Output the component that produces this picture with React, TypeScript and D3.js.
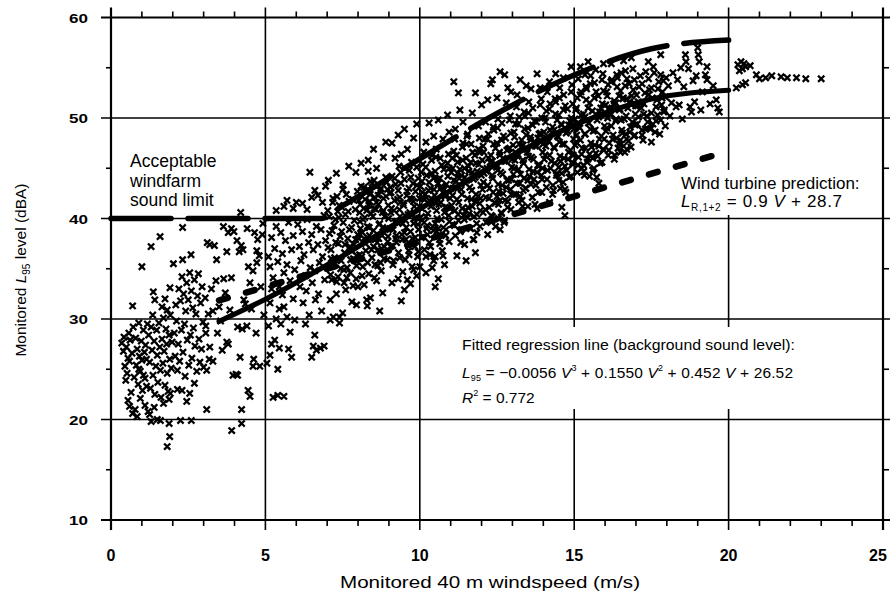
import React from "react";
import * as d3 from "d3";

const W = 890;
const H = 594;

const xMajor = [0, 5, 10, 15, 20, 25];
const yMajor = [10, 20, 30, 40, 50, 60];
const xMinor = [1, 2, 3, 4, 6, 7, 8, 9, 11, 12, 13, 14, 16, 17, 18, 19, 21, 22, 23, 24];
const yMinor = [15, 25, 35, 45, 55];
const xTickLabels = ["0", "5", "10", "15", "20", "25"];
const yTickLabels = ["10", "20", "30", "40", "50", "60"];

// Fitted regression line (background sound level)
const regressionLine: [number, number][] = [
  [3.5, 29.76], [5, 31.96], [7.5, 36.27], [10, 40.94], [12.5, 45.45], [15, 49.28], [17.5, 51.89], [20, 52.76],
];
// Wind turbine prediction line
const turbineLine: [number, number][] = [[3.5, 31.85], [20, 46.7]];
// Acceptable windfarm sound limit
const limitLine: [number, number][] = [
  [0, 40], [6.8, 40], [7.5, 41.27], [8.5, 43.1], [10, 45.94], [12.5, 50.45], [15, 54.28], [17.5, 56.89], [20, 57.76],
];

const lowWindPoints: [number, number][] = [
  [0.35,27.6],[0.4,26.8],[0.42,28.2],[0.45,25.3],[0.5,27.2],[0.52,24.6],[0.55,26.1],[0.58,28.6],[0.6,25.8],[0.48,23.9],[0.62,27.9],[0.55,21.9],[0.6,21.3],[0.65,22.7],[0.7,31.3],[0.68,26.6],[0.72,29.2],[0.75,24.2],[0.7,20.6],
  [0.8,28.1],[0.82,25.4],[0.85,27.0],[0.88,23.5],[0.9,29.6],[0.92,26.3],[0.95,24.8],[0.98,27.8],[1.0,25.9],[1.02,22.9],[1.05,28.9],[1.08,26.7],[1.1,24.1],[1.12,27.4],[1.15,23.3],[1.18,29.5],[0.78,21.0],[0.85,20.3],[0.95,22.1],[1.0,35.2],[1.1,21.4],[1.2,20.8],[0.9,25.0],[1.05,24.4],[1.15,26.0],
  [1.22,28.4],[1.25,25.7],[1.28,23.1],[1.3,29.2],[1.33,26.9],[1.36,24.4],[1.4,27.8],[1.42,22.5],[1.45,25.3],[1.48,28.9],[1.5,26.4],[1.52,23.7],[1.55,29.6],[1.58,27.2],[1.6,24.9],[1.62,22.2],[1.65,28.0],[1.68,25.6],[1.7,30.1],[1.72,26.8],[1.75,23.4],[1.78,29.0],[1.8,27.5],[1.82,24.6],[1.85,22.8],[1.88,28.4],[1.9,26.0],[1.92,30.4],[1.95,25.1],[1.98,27.7],
  [1.3,37.2],[1.37,32.7],[1.42,31.9],[1.59,38.2],[1.82,30.9],[1.91,33.1],[1.25,20.5],[1.3,19.8],[1.5,20.0],[1.6,19.9],[1.88,19.6],[1.9,18.3],[1.82,17.3],[1.92,22.6],[1.88,22.0],[1.4,21.2],[1.7,21.6],[1.35,30.4],[1.65,31.2],[1.75,32.0],
  [2.02,35.5],[2.32,35.9],[2.59,36.4],[2.32,39.1],[2.1,31.4],[2.2,33.0],[2.25,31.8],[2.3,34.2],[2.35,32.5],[2.42,30.8],[2.45,33.6],[2.5,31.9],[2.55,34.6],[2.6,32.8],[2.65,31.1],[2.7,33.9],[2.75,30.5],[2.8,32.3],[2.83,34.5],[2.9,31.6],[2.95,33.2],
  [2.05,28.6],[2.08,26.3],[2.12,29.8],[2.15,24.9],[2.18,27.5],[2.22,25.8],[2.28,28.9],[2.33,26.7],[2.38,29.5],[2.4,24.3],[2.47,27.9],[2.52,25.4],[2.57,28.4],[2.62,26.1],[2.67,29.1],[2.72,27.3],[2.78,24.8],[2.85,28.0],[2.88,25.7],[2.93,27.0],[2.98,29.7],[2.55,22.6],[2.25,19.9],[2.6,19.9],[2.3,22.9],[2.7,23.6],[2.15,23.0],[2.45,21.8],
  [3.12,37.6],[3.2,37.4],[3.35,37.3],[3.42,35.9],[3.64,39.2],[3.8,38.6],[3.9,39.0],[3.98,38.7],[3.75,36.7],[3.4,33.8],[3.65,34.0],[3.9,34.1],[3.07,29.3],[3.07,28.6],[3.2,27.2],[3.18,26.0],[3.0,25.2],[3.1,24.9],[3.1,21.0],[3.75,27.7],[3.8,27.5],[3.91,18.9],[3.95,24.4],[3.3,30.8],[3.5,31.2],[3.05,32.1],[3.15,30.5],[3.25,33.0],[3.55,29.8],[3.85,30.9],[3.7,32.6],[3.45,28.6],[3.6,26.9],[3.3,25.8],
  [4.08,37.8],[4.15,36.7],[4.22,37.3],[4.27,36.9],[4.41,39.0],[4.72,35.6],[4.72,36.8],[4.75,37.9],[4.9,38.4],[4.92,39.5],[4.3,31.9],[4.35,31.5],[4.5,33.6],[4.1,29.2],[4.25,29.0],[4.4,29.3],[4.18,26.2],[4.6,25.3],[4.62,26.0],[4.1,24.4],[4.05,24.5],[4.44,22.9],[4.5,22.3],[4.82,25.3],[4.23,19.6],[4.23,21.0],[4.6,34.8],[4.85,33.2],[4.55,31.0],[4.95,30.4],[4.7,28.6],[4.2,40.6],[4.45,35.2],[4.65,38.6],[4.8,36.3],
];

const midWindPoints: [number, number][] = [
  [5.1,36.2],[5.15,35.2],[5.2,38.1],[5.25,34.1],[5.3,37.0],[5.35,39.2],[5.4,35.7],[5.45,33.2],[5.5,38.6],[5.55,36.5],[5.6,34.6],[5.65,37.8],[5.7,35.4],[5.75,39.6],[5.8,33.8],[5.85,36.9],[5.9,38.3],[5.95,34.9],[5.6,41.2],[5.7,41.8],[5.9,41.0],[6.0,41.6],[5.35,40.8],
  [5.05,25.6],[5.15,26.4],[5.2,27.5],[5.3,27.9],[5.45,27.1],[5.6,22.3],[5.4,22.4],[5.25,22.2],[5.1,29.3],[5.35,30.0],[5.5,29.5],[5.6,31.2],[5.7,30.2],[5.8,28.7],[5.9,32.0],[5.95,29.9],[5.55,32.4],[5.15,31.6],[5.75,27.0],[5.85,26.2],[5.2,33.0],[5.45,31.0],
  [6.05,39.4],[6.1,37.2],[6.15,35.8],[6.2,38.7],[6.25,36.4],[6.3,34.3],[6.35,39.9],[6.4,37.6],[6.45,35.1],[6.5,38.4],[6.55,36.9],[6.6,34.8],[6.65,39.2],[6.7,37.4],[6.75,35.6],[6.8,38.9],[6.85,36.2],[6.9,40.3],[6.95,37.8],
  [6.12,33.2],[6.22,31.6],[6.32,32.8],[6.42,30.4],[6.52,33.6],[6.62,31.9],[6.72,32.5],[6.82,30.8],[6.92,33.9],[6.3,29.5],[6.55,27.3],[6.65,26.9],[6.78,27.1],[6.6,28.4],[6.44,44.6],[6.5,42.1],[6.6,42.8],[6.7,42.3],[6.2,41.5],[6.85,41.6],[6.35,40.9],[6.95,43.2],
  [7.02,40.8],[7.08,38.5],[7.12,36.9],[7.18,41.6],[7.22,39.3],[7.28,37.6],[7.32,42.2],[7.38,40.1],[7.42,38.2],[7.48,41.1],[7.52,39.6],[7.58,37.4],[7.62,42.4],[7.68,40.7],[7.72,38.9],[7.78,36.8],[7.82,41.9],[7.88,39.8],[7.92,37.9],[7.98,42.7],
  [7.05,35.2],[7.15,33.9],[7.25,35.5],[7.35,34.2],[7.45,35.8],[7.55,33.6],[7.65,35.1],[7.75,34.6],[7.85,36.0],[7.95,35.3],[7.1,31.9],[7.3,32.5],[7.5,30.6],[7.6,32.9],[7.8,31.7],[7.95,31.4],[7.2,30.2],[7.4,29.6],[7.04,43.8],[7.52,43.3],[7.93,44.6],[7.3,44.5],[7.7,45.2],[8.0,33.2],
  [8.02,41.8],[8.06,39.7],[8.1,43.2],[8.14,38.6],[8.18,41.0],[8.22,40.1],[8.26,42.6],[8.3,39.2],[8.34,37.9],[8.38,41.7],[8.42,40.5],[8.46,43.5],[8.5,38.8],[8.54,42.1],[8.58,40.9],[8.62,37.6],[8.66,41.4],[8.7,39.5],[8.74,43.0],[8.78,38.3],[8.82,42.0],[8.86,40.2],[8.9,44.1],[8.94,39.0],[8.98,41.3],
  [8.05,36.4],[8.15,35.2],[8.25,36.8],[8.35,34.5],[8.45,36.1],[8.55,35.4],[8.65,36.9],[8.75,34.8],[8.85,37.2],[8.95,35.9],[8.2,33.4],[8.4,32.1],[8.6,33.8],[8.8,32.6],[8.3,31.3],[8.7,30.8],[8.82,46.1],[8.33,45.8],[8.33,44.7],[8.5,46.9],[8.1,45.5],[8.9,47.6],[8.6,45.0],
  [9.02,42.5],[9.06,40.6],[9.1,44.2],[9.14,38.9],[9.18,41.8],[9.22,43.4],[9.26,39.7],[9.3,42.8],[9.34,40.9],[9.38,44.6],[9.42,38.4],[9.46,41.5],[9.5,43.9],[9.54,39.8],[9.58,42.3],[9.62,40.4],[9.66,44.8],[9.7,38.7],[9.74,41.9],[9.78,43.5],[9.82,40.0],[9.86,42.7],[9.9,45.1],[9.94,39.4],[9.98,41.2],
  [9.05,37.2],[9.15,35.8],[9.25,37.6],[9.35,36.1],[9.45,34.7],[9.55,37.9],[9.65,36.4],[9.75,35.2],[9.85,38.1],[9.95,36.7],[9.1,33.6],[9.3,34.0],[9.5,32.9],[9.7,33.5],[9.9,34.3],[9.4,31.8],[9.1,47.5],[9.3,48.3],[9.5,48.9],[9.6,46.9],[9.4,46.4],[9.2,46.0],[9.8,48.0],[9.9,49.4],
  [5.4,25.0],[6.5,26.2],[6.9,27.3],[7.4,30.2],[7.1,29.9],[8.28,31.9],[9.6,33.9],[9.8,34.9],[10.0,35.2],
];

const highWindPoints: [number, number][] = [
  [10.02,43.2],[10.06,41.0],[10.1,45.4],[10.14,39.6],[10.18,42.4],[10.22,44.3],[10.26,40.5],[10.3,43.6],[10.34,41.7],[10.38,45.8],[10.42,39.2],[10.46,42.9],[10.5,44.7],[10.54,40.8],[10.58,43.9],[10.62,41.4],[10.66,46.0],[10.7,39.9],[10.74,42.6],[10.78,44.9],[10.82,41.1],[10.86,43.4],[10.9,45.5],[10.94,40.3],[10.98,42.0],
  [10.05,38.1],[10.15,36.9],[10.25,38.4],[10.35,37.2],[10.45,35.8],[10.55,38.7],[10.65,37.5],[10.75,36.3],[10.85,38.9],[10.95,37.7],[10.2,34.6],[10.4,35.1],[10.6,34.0],[10.8,35.4],[10.5,33.2],[10.3,49.5],[10.6,49.8],[10.9,50.3],[10.2,47.6],[10.45,48.2],[10.75,47.9],[10.95,48.6],[10.2,36.2],[10.5,36.2],
  [11.02,44.6],[11.06,42.3],[11.1,46.7],[11.14,40.8],[11.18,43.7],[11.22,45.6],[11.26,41.6],[11.3,44.9],[11.34,42.9],[11.38,47.1],[11.42,40.3],[11.46,44.1],[11.5,46.0],[11.54,42.0],[11.58,45.2],[11.62,43.1],[11.66,47.4],[11.7,41.2],[11.74,43.9],[11.78,46.3],[11.82,42.4],[11.86,44.7],[11.9,46.9],[11.94,41.5],[11.98,43.3],
  [11.05,39.4],[11.15,38.3],[11.25,39.8],[11.35,38.9],[11.45,37.4],[11.55,40.1],[11.65,39.0],[11.75,37.9],[11.85,40.4],[11.95,39.2],[11.2,36.3],[11.5,35.8],[11.8,36.6],[11.1,53.6],[11.25,52.5],[11.8,52.5],[11.7,50.5],[11.4,49.6],[11.15,48.9],[11.55,48.4],[11.9,49.2],[11.3,50.8],
  [12.02,45.8],[12.06,43.6],[12.1,47.9],[12.14,42.1],[12.18,45.0],[12.22,48.4],[12.26,43.0],[12.3,46.3],[12.34,44.3],[12.38,49.1],[12.42,41.6],[12.46,45.4],[12.5,47.5],[12.54,43.4],[12.58,46.6],[12.62,44.6],[12.66,49.5],[12.7,42.5],[12.74,45.7],[12.78,48.0],[12.82,43.8],[12.86,46.9],[12.9,49.8],[12.94,42.9],[12.98,45.1],
  [12.05,40.6],[12.15,39.6],[12.25,41.1],[12.35,40.2],[12.45,39.2],[12.55,41.4],[12.65,40.5],[12.75,39.8],[12.85,41.7],[12.95,40.9],[12.2,38.4],[12.6,38.9],[12.3,53.4],[12.35,53.8],[12.6,54.6],[12.75,54.3],[12.85,53.0],[12.95,52.6],[12.0,51.3],[12.5,52.0],[12.2,51.8],[12.8,51.5],
  [13.02,47.3],[13.06,45.0],[13.1,49.4],[13.14,43.5],[13.18,46.4],[13.22,50.1],[13.26,44.4],[13.3,47.8],[13.34,45.8],[13.38,50.6],[13.42,43.0],[13.46,46.9],[13.5,49.0],[13.54,44.9],[13.58,48.1],[13.62,46.1],[13.66,51.0],[13.7,43.9],[13.74,47.2],[13.78,49.6],[13.82,45.3],[13.86,48.4],[13.9,51.3],[13.94,44.3],[13.98,46.6],
  [13.05,42.4],[13.2,41.6],[13.35,42.8],[13.5,41.2],[13.65,42.1],[13.8,41.0],[13.95,42.6],[13.25,53.8],[13.45,53.2],[13.8,54.4],[13.6,52.9],[13.15,52.3],[13.9,53.0],
  [14.02,48.6],[14.06,46.3],[14.1,50.7],[14.14,44.8],[14.18,47.7],[14.22,51.4],[14.26,45.7],[14.3,49.1],[14.34,47.1],[14.38,51.9],[14.42,44.3],[14.46,48.2],[14.5,50.3],[14.54,46.2],[14.58,49.4],[14.62,47.4],[14.66,52.3],[14.7,45.2],[14.74,48.5],[14.78,50.9],[14.82,46.6],[14.86,49.7],[14.9,52.6],[14.94,45.6],[14.98,47.9],
  [14.1,43.1],[14.3,42.4],[14.5,43.8],[14.7,42.9],[14.9,44.2],[14.2,41.6],[14.6,41.1],[14.7,40.3],[14.4,54.4],[14.9,55.1],[14.65,54.0],[14.2,53.6],
];

const topWindPoints: [number, number][] = [
  [15.02,49.9],[15.06,47.6],[15.1,52.0],[15.14,46.1],[15.18,49.0],[15.22,52.6],[15.26,47.0],[15.3,50.4],[15.34,48.4],[15.38,53.1],[15.42,45.6],[15.46,49.5],[15.5,51.5],[15.54,47.5],[15.58,50.7],[15.62,48.7],[15.66,53.5],[15.7,46.5],[15.74,49.8],[15.78,52.2],[15.82,47.9],[15.86,51.0],[15.9,53.8],[15.94,46.9],[15.98,49.2],
  [15.1,44.6],[15.3,45.3],[15.5,44.2],[15.6,44.8],[15.8,43.5],[15.9,45.6],[15.2,55.1],[15.45,55.6],[15.7,54.8],[15.95,55.4],[15.35,54.3],
  [16.02,51.3],[16.06,49.0],[16.1,53.3],[16.14,47.5],[16.18,50.3],[16.22,53.8],[16.26,48.3],[16.3,51.7],[16.34,49.7],[16.38,54.3],[16.42,47.0],[16.46,50.8],[16.5,52.7],[16.54,48.8],[16.58,51.9],[16.62,49.9],[16.66,54.7],[16.7,47.9],[16.74,51.0],[16.78,53.4],[16.82,49.1],[16.86,52.2],[16.9,54.9],[16.94,48.2],[16.98,50.4],
  [16.1,46.3],[16.3,45.9],[16.5,46.6],[16.7,46.9],[16.2,55.4],[16.6,55.7],[16.85,56.0],
  [17.02,52.3],[17.08,50.1],[17.14,54.2],[17.2,48.8],[17.26,51.4],[17.32,54.6],[17.38,49.6],[17.44,52.8],[17.5,50.5],[17.56,55.1],[17.62,48.6],[17.68,51.8],[17.74,53.6],[17.8,49.8],[17.86,52.6],[17.92,50.8],[17.98,54.0],[17.2,48.3],[17.5,47.6],[17.8,56.3],[17.4,55.6],[17.9,50.6],
  [18.05,53.2],[18.15,51.5],[18.2,54.5],[18.3,51.1],[18.35,53.8],[18.4,51.3],[18.45,55.0],[18.55,53.1],[18.6,56.3],[18.62,55.6],[18.7,54.9],[18.75,51.1],[18.85,53.7],[18.9,51.6],[18.95,54.2],[18.1,50.2],[18.5,49.9],[18.8,50.6],
  [19.0,57.0],[19.02,56.3],[19.05,55.6],[19.3,55.1],[19.3,53.8],[19.25,54.3],[19.6,51.8],[19.65,51.0],[19.7,50.6],[19.4,51.4],[19.15,52.6],[19.5,53.2],[19.1,50.8],
  [20.3,55.3],[20.4,55.6],[20.45,54.9],[20.5,55.4],[20.35,54.7],[20.55,55.1],[20.7,55.2],[20.9,54.3],[21.0,53.9],[21.2,54.0],[21.4,54.2],[21.7,54.1],[21.9,54.0],[22.2,54.0],[22.5,53.9],[23.0,53.9],[20.25,53.0],[20.45,53.3],[20.55,53.5],
];

const denseCorePoints: [number, number][] = [
  [7.03,37.1],[7.07,40.2],[7.11,34.4],[7.16,38.8],[7.19,42.0],[7.24,36.1],[7.27,39.9],[7.31,33.7],[7.36,37.5],[7.39,41.3],[7.44,35.0],[7.47,38.7],[7.51,42.9],[7.56,36.6],[7.59,40.4],[7.64,34.1],[7.67,38.0],[7.71,41.7],[7.76,35.9],[7.79,39.1],[7.84,33.3],[7.87,37.4],[7.91,40.9],[7.96,36.3],[7.99,38.4],[7.13,36.0],[7.34,40.7],[7.54,34.9],[7.74,37.2],[7.94,34.0],
  [8.03,38.0],[8.07,41.4],[8.12,36.2],[8.16,39.9],[8.19,43.1],[8.24,37.5],[8.28,40.8],[8.31,35.6],[8.36,39.1],[8.39,42.4],[8.44,36.9],[8.48,40.2],[8.52,43.8],[8.56,37.9],[8.59,41.6],[8.64,35.3],[8.68,39.4],[8.71,42.8],[8.76,37.0],[8.79,40.6],[8.84,36.0],[8.88,38.9],[8.91,42.2],[8.96,37.7],[8.99,40.0],[8.13,34.3],[8.33,42.9],[8.53,34.1],[8.73,35.6],[8.93,43.6],
  [9.03,39.0],[9.07,42.6],[9.12,37.3],[9.16,40.8],[9.19,44.0],[9.24,38.3],[9.28,41.9],[9.31,36.6],[9.36,40.2],[9.39,43.5],[9.44,37.9],[9.48,41.3],[9.52,45.0],[9.56,39.1],[9.59,42.7],[9.64,36.8],[9.68,40.6],[9.71,44.1],[9.76,38.0],[9.79,41.7],[9.84,37.2],[9.88,40.1],[9.91,43.3],[9.96,38.9],[9.99,42.0],[9.13,35.4],[9.33,45.2],[9.53,35.9],[9.73,45.6],[9.93,36.2],
  [10.03,40.1],[10.07,43.7],[10.12,38.2],[10.16,41.9],[10.19,45.1],[10.24,39.3],[10.28,42.8],[10.31,37.6],[10.36,41.2],[10.39,44.5],[10.44,38.8],[10.48,42.3],[10.52,46.1],[10.56,40.0],[10.59,43.5],[10.64,37.9],[10.68,41.6],[10.71,45.3],[10.76,39.1],[10.79,42.9],[10.84,38.3],[10.88,41.1],[10.91,44.2],[10.96,39.7],[10.99,43.0],[10.13,46.6],[10.33,36.4],[10.53,46.9],[10.73,36.8],[10.93,46.4],
  [11.03,41.3],[11.07,45.0],[11.12,39.3],[11.16,43.1],[11.19,46.3],[11.24,40.4],[11.28,44.0],[11.31,38.7],[11.36,42.4],[11.39,45.8],[11.44,39.9],[11.48,43.5],[11.52,47.4],[11.56,41.1],[11.59,44.7],[11.64,39.0],[11.68,42.8],[11.71,46.6],[11.76,40.2],[11.79,44.1],[11.84,39.5],[11.88,42.2],[11.91,45.4],[11.96,40.8],[11.99,44.3],[11.13,47.9],[11.33,37.6],[11.53,48.2],[11.73,37.9],[11.93,48.0],
  [12.03,42.9],[12.07,46.6],[12.12,40.9],[12.16,44.7],[12.19,47.9],[12.24,42.0],[12.28,45.6],[12.31,40.3],[12.36,44.0],[12.39,47.4],[12.44,41.5],[12.48,45.1],[12.52,49.0],[12.56,42.7],[12.59,46.3],[12.64,40.6],[12.68,44.4],[12.71,48.2],[12.76,41.8],[12.79,45.7],[12.84,41.1],[12.88,43.8],[12.91,47.0],[12.96,42.4],[12.99,45.9],[12.13,49.6],[12.33,39.7],[12.53,49.9],[12.73,39.6],[12.93,50.2],
  [13.03,44.4],[13.07,48.1],[13.12,42.4],[13.16,46.2],[13.19,49.4],[13.24,43.5],[13.28,47.1],[13.31,41.8],[13.36,45.5],[13.39,48.9],[13.44,43.0],[13.48,46.6],[13.52,50.5],[13.56,44.2],[13.59,47.8],[13.64,42.1],[13.68,45.9],[13.71,49.7],[13.76,43.3],[13.79,47.2],[13.84,42.6],[13.88,45.3],[13.91,48.5],[13.96,43.9],[13.99,47.4],[13.13,51.1],[13.33,41.2],[13.53,51.6],[13.73,41.4],[13.93,51.9],
  [14.03,45.9],[14.07,49.6],[14.12,43.9],[14.16,47.7],[14.19,50.9],[14.24,45.0],[14.28,48.6],[14.31,43.3],[14.36,47.0],[14.39,50.4],[14.44,44.5],[14.48,48.1],[14.52,52.0],[14.56,45.7],[14.59,49.3],[14.64,43.6],[14.68,47.4],[14.71,51.2],[14.76,44.8],[14.79,48.7],[14.84,44.1],[14.88,46.8],[14.91,50.0],[14.96,45.4],[14.99,48.9],[14.13,52.6],[14.33,42.8],[14.53,53.0],[14.73,42.6],[14.93,53.3],
  [15.03,47.3],[15.07,51.0],[15.12,45.3],[15.16,49.1],[15.19,52.3],[15.24,46.4],[15.28,50.0],[15.31,44.7],[15.36,48.4],[15.39,51.8],[15.44,45.9],[15.48,49.5],[15.52,53.4],[15.56,47.1],[15.59,50.7],[15.64,45.0],[15.68,48.8],[15.71,52.6],[15.76,46.2],[15.79,50.1],[15.84,45.5],[15.88,48.2],[15.91,51.4],[15.96,46.8],[15.99,50.3],[15.13,53.9],[15.33,44.3],[15.53,54.2],[15.73,44.1],[15.93,54.4],
  [16.03,48.7],[16.07,52.2],[16.12,46.8],[16.16,50.5],[16.19,53.6],[16.24,47.9],[16.28,51.4],[16.31,46.3],[16.36,49.9],[16.39,53.1],[16.44,47.4],[16.48,50.9],[16.52,54.5],[16.56,48.5],[16.59,52.0],[16.64,46.6],[16.68,50.2],[16.71,53.9],[16.76,47.7],[16.79,51.6],[16.84,47.1],[16.88,49.6],[16.91,52.8],[16.96,48.3],[16.99,51.2],
  [17.04,49.4],[17.1,53.1],[17.17,51.0],[17.23,47.8],[17.29,52.5],[17.35,50.2],[17.41,53.9],[17.47,48.9],[17.53,52.0],[17.59,54.5],[17.65,49.7],[17.71,52.9],[17.77,48.4],[17.83,51.3],[17.89,53.7],[17.95,49.2],
];

const extraCorePoints: [number, number][] = [
  [8.05,40.6],[8.2,38.0],[8.35,41.3],[8.5,37.2],[8.65,42.3],[8.8,39.1],[8.95,42.9],[8.4,43.7],
  [9.05,43.1],[9.2,39.6],[9.35,42.1],[9.5,38.6],[9.65,43.0],[9.8,39.5],[9.95,44.0],
  [10.05,44.6],[10.2,40.2],[10.35,43.0],[10.5,39.5],[10.65,44.0],[10.8,40.6],[10.95,45.0],[10.1,42.0],[10.4,46.3],[10.7,43.2],
  [11.05,46.0],[11.2,41.9],[11.35,44.3],[11.5,40.8],[11.65,45.6],[11.8,41.7],[11.95,46.6],[11.1,43.8],[11.4,47.5],[11.7,44.6],[11.85,38.6],
  [12.05,47.2],[12.2,43.3],[12.35,45.7],[12.5,42.2],[12.65,47.8],[12.8,43.1],[12.95,48.5],[12.1,44.9],[12.4,48.8],[12.7,46.0],[12.55,40.0],
  [13.05,48.6],[13.2,44.9],[13.35,47.3],[13.5,43.8],[13.65,49.3],[13.8,44.6],[13.95,50.0],[13.1,46.6],[13.4,50.2],[13.7,47.6],[13.25,42.2],
  [14.05,50.0],[14.2,46.3],[14.35,48.8],[14.5,45.1],[14.65,50.8],[14.8,45.9],[14.95,51.4],[14.1,48.0],[14.4,51.6],[14.7,49.0],[14.55,43.0],
  [15.05,50.8],[15.2,47.8],[15.35,50.1],[15.5,46.4],[15.65,52.0],[15.8,47.2],[15.95,52.7],[15.1,49.4],[15.4,52.9],[15.7,50.4],[15.25,45.0],
  [16.05,52.6],[16.2,49.2],[16.35,51.5],[16.5,47.8],[16.65,53.2],[16.8,48.6],[16.95,53.8],[16.1,50.9],[16.4,54.0],[16.7,51.9],
  [17.05,51.2],[17.2,53.4],[17.35,49.0],[17.5,53.0],[17.65,51.1],[17.8,54.3],[17.95,52.1],
];

const fillCorePoints: [number, number][] = [
  [8.08,39.0],[8.23,41.9],[8.37,38.3],[8.52,41.0],[8.67,38.0],[8.82,40.8],[8.97,38.2],
  [9.08,41.0],[9.22,38.0],[9.37,41.6],[9.52,40.3],[9.67,42.0],[9.82,41.2],[9.97,40.0],[9.45,39.5],
  [10.08,42.6],[10.22,39.0],[10.37,42.0],[10.52,41.5],[10.67,43.0],[10.82,42.2],[10.97,41.0],[10.45,44.0],[10.6,39.0],
  [11.08,43.0],[11.22,44.5],[11.37,41.0],[11.52,43.8],[11.67,41.9],[11.82,45.5],[11.97,42.0],[11.45,45.0],[11.6,40.5],
  [12.08,44.5],[12.22,46.0],[12.37,42.6],[12.52,44.8],[12.67,43.3],[12.82,46.8],[12.97,43.9],[12.45,47.0],[12.6,41.8],
  [13.08,45.8],[13.22,47.4],[13.37,44.0],[13.52,46.2],[13.67,44.7],[13.82,48.0],[13.97,45.0],[13.45,48.3],[13.6,43.4],
  [14.08,47.2],[14.22,48.8],[14.37,45.5],[14.52,47.6],[14.67,46.0],[14.82,49.3],[14.97,46.3],[14.45,49.8],[14.6,44.5],
  [15.08,48.3],[15.22,50.3],[15.37,47.0],[15.52,48.9],[15.67,47.3],[15.82,50.6],[15.97,47.9],[15.45,51.0],[15.6,46.0],
  [16.08,50.0],[16.22,51.0],[16.37,48.0],[16.52,49.8],[16.67,48.4],[16.82,51.4],[16.97,49.3],[16.45,52.2],[16.6,47.2],
  [17.08,51.6],[17.25,50.4],[17.4,52.3],[17.55,49.4],[17.7,50.3],[17.85,52.0],[17.3,48.9],
];

const allPoints = [...lowWindPoints, ...midWindPoints, ...highWindPoints, ...topWindPoints, ...denseCorePoints, ...extraCorePoints, ...fillCorePoints];

const FONT = "'Liberation Sans', Arial, Helvetica, sans-serif";

export default function App() {
  const x = d3.scaleLinear().domain([0, 25]).range([111, 883]);
  const y = d3.scaleLinear().domain([10, 60]).range([520, 17.5]);

  const smooth = d3.line<[number, number]>().x((d) => x(d[0])).y((d) => y(d[1])).curve(d3.curveMonotoneX);
  const straight = d3.line<[number, number]>().x((d) => x(d[0])).y((d) => y(d[1]));

  const s = 2.3;
  const markerPath = allPoints
    .map(([v, l]) => {
      const px = x(v), py = y(l);
      return `M${(px - s).toFixed(1)},${(py - s).toFixed(1)}L${(px + s).toFixed(1)},${(py + s).toFixed(1)}M${(px - s).toFixed(1)},${(py + s).toFixed(1)}L${(px + s).toFixed(1)},${(py - s).toFixed(1)}`;
    })
    .join("");

  const x0 = x(0), x25 = x(25), y10 = y(10), y60 = y(60);

  return (
    <svg width={W} height={H} viewBox={`0 0 ${W} ${H}`} style={{ display: "block", position: "absolute", left: 0, top: 0, background: "#fff" }} fontFamily={FONT}>
      <rect x={0} y={0} width={W} height={H} fill="#fff" />
      {yMajor.map((v) => (
        <line key={"h" + v} x1={x0 - 10} x2={x25 + 10} y1={y(v)} y2={y(v)} stroke="#000" strokeWidth={v === 10 || v === 60 ? 2 : 1.6} />
      ))}
      {xMajor.map((v) => (
        <line key={"v" + v} x1={x(v)} x2={x(v)} y1={y60 - 10} y2={y10 + 10} stroke="#000" strokeWidth={v === 0 || v === 25 ? 2.2 : 1.6} />
      ))}
      {xMinor.map((v) => (
        <g key={"xm" + v}>
          <line x1={x(v)} x2={x(v)} y1={y10} y2={y10 + 6} stroke="#000" strokeWidth={1.6} />
          <line x1={x(v)} x2={x(v)} y1={y60} y2={y60 - 6} stroke="#000" strokeWidth={1.6} />
        </g>
      ))}
      {yMinor.map((v) => (
        <g key={"ym" + v}>
          <line x1={x0} x2={x0 - 5} y1={y(v)} y2={y(v)} stroke="#000" strokeWidth={1.6} />
          <line x1={x25} x2={x25 + 6} y1={y(v)} y2={y(v)} stroke="#000" strokeWidth={1.6} />
        </g>
      ))}

      <path d={markerPath} stroke="#000" strokeWidth={2.3} strokeLinecap="square" fill="none" />

      <path d={smooth(regressionLine) || ""} stroke="#000" strokeWidth={5.2} fill="none" strokeLinecap="round" />
      <path d={straight(turbineLine) || ""} stroke="#000" strokeWidth={6.5} fill="none" strokeLinecap="round" strokeDasharray="9 19" />
      <path d={smooth(limitLine) || ""} stroke="#000" strokeWidth={5.5} fill="none" strokeLinecap="round" strokeDasharray="60 17" />

      {yMajor.map((v, i) => (
        <text key={"yl" + v} x={88} y={y(v) + 5} textAnchor="end" fontSize={13.5} fontWeight="bold" textLength={19} lengthAdjust="spacingAndGlyphs">
          {yTickLabels[i]}
        </text>
      ))}
      {xMajor.map((v, i) => (
        <text key={"xl" + v} x={v === 25 ? 878 : x(v)} y={561} textAnchor="middle" fontSize={16} fontWeight="bold">
          {xTickLabels[i]}
        </text>
      ))}

      <text x={340} y={588} fontSize={16} textLength={300} lengthAdjust="spacingAndGlyphs">Monitored 40 m windspeed (m/s)</text>
      <text transform={`translate(26,${270}) rotate(-90)`} textAnchor="middle" fontSize={15.5}>
        Monitored <tspan fontStyle="italic">L</tspan>
        <tspan fontSize={10} dy={4}>95</tspan>
        <tspan dy={-4}> level (dBA)</tspan>
      </text>

      <text x={130} y={167} fontSize={17.5}>Acceptable</text>
      <text x={130} y={187} fontSize={17.5}>windfarm</text>
      <text x={130} y={206} fontSize={17.5}>sound limit</text>

      <rect x={674} y={170} width={207} height={45} fill="#fff" />
      <text x={681} y={188.5} fontSize={17}>Wind turbine prediction:</text>
      <text x={681} y={207} fontSize={17} textLength={161} lengthAdjust="spacing">
        <tspan fontStyle="italic">L</tspan>
        <tspan fontSize={10} dy={4}>R,1+2</tspan>
        <tspan dy={-4}>{" =  0.9 "}</tspan>
        <tspan fontStyle="italic">V</tspan>
        <tspan>{" + 28.7"}</tspan>
      </text>

      <rect x={455} y={327} width={345} height={82} fill="#fff" />
      <text x={462} y={350} fontSize={15.5} textLength={333} lengthAdjust="spacingAndGlyphs">Fitted regression line (background sound level):</text>
      <text x={462} y={378} fontSize={15.5} textLength={331} lengthAdjust="spacing">
        <tspan fontStyle="italic">L</tspan>
        <tspan fontSize={9} dy={3}>95</tspan>
        <tspan dy={-3}>{" = \u22120.0056 "}</tspan>
        <tspan fontStyle="italic">V</tspan>
        <tspan fontSize={9} dy={-7}>3</tspan>
        <tspan dy={7}>{" + 0.1550 "}</tspan>
        <tspan fontStyle="italic">V</tspan>
        <tspan fontSize={9} dy={-7}>2</tspan>
        <tspan dy={7}>{" + 0.452 "}</tspan>
        <tspan fontStyle="italic">V</tspan>
        <tspan>{" + 26.52"}</tspan>
      </text>
      <text x={462} y={403} fontSize={15.5}>
        <tspan fontStyle="italic">R</tspan>
        <tspan fontSize={9} dy={-7}>2</tspan>
        <tspan dy={7}>{" = 0.772"}</tspan>
      </text>
    </svg>
  );
}
